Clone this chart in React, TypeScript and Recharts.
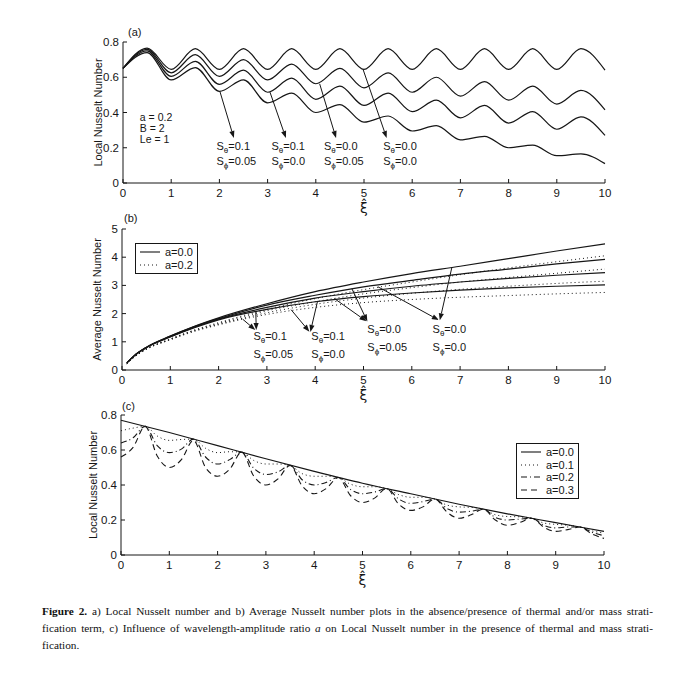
import React from 'react';
import { LineChart, Line, XAxis, YAxis, ReferenceLine, ReferenceDot, Legend } from 'recharts';

// ---------- ticks ----------
const xiTicks = [0, 1, 2, 3, 4, 5, 6, 7, 8, 9, 10];
const nuLocalTicks = [0, 0.2, 0.4, 0.6, 0.8];
const nuAvgTicks = [0, 1, 2, 3, 4, 5];

// ---------- panel (a) ----------
const xiA = [0, 0.5, 1, 1.5, 2, 2.5, 3, 3.5, 4, 4.5, 5, 5.5, 6, 6.5, 7, 7.5, 8, 8.5, 9, 9.5, 10];
const aS00 = [0.65, 0.765, 0.645, 0.762, 0.645, 0.762, 0.645, 0.762, 0.645, 0.762, 0.645, 0.762, 0.645, 0.762, 0.645, 0.762, 0.645, 0.762, 0.645, 0.762, 0.64];
const aS0005 = [0.65, 0.758, 0.625, 0.728, 0.605, 0.7, 0.585, 0.675, 0.563, 0.65, 0.54, 0.625, 0.515, 0.6, 0.493, 0.575, 0.47, 0.55, 0.448, 0.525, 0.415];
const aS0100 = [0.65, 0.75, 0.605, 0.69, 0.56, 0.64, 0.515, 0.595, 0.475, 0.55, 0.44, 0.51, 0.405, 0.47, 0.37, 0.44, 0.34, 0.405, 0.305, 0.375, 0.27];
const aS0105 = [0.65, 0.74, 0.585, 0.655, 0.52, 0.585, 0.455, 0.51, 0.4, 0.445, 0.345, 0.38, 0.295, 0.325, 0.245, 0.265, 0.2, 0.215, 0.155, 0.165, 0.11];

// ---------- panel (b) ----------
const xiB = [0.1, 0.25, 0.5, 1, 1.5, 2, 3, 4, 5, 6, 7, 8, 9, 10];
const bSolid00 = [0.25, 0.5, 0.8, 1.2, 1.55, 1.85, 2.35, 2.78, 3.12, 3.42, 3.68, 3.95, 4.22, 4.47];
const bSolid0005 = [0.25, 0.5, 0.8, 1.2, 1.54, 1.82, 2.3, 2.65, 2.95, 3.18, 3.4, 3.58, 3.76, 3.92];
const bSolid0100 = [0.25, 0.5, 0.79, 1.18, 1.52, 1.8, 2.22, 2.55, 2.78, 2.97, 3.12, 3.25, 3.36, 3.45];
const bSolid0105 = [0.25, 0.5, 0.79, 1.17, 1.5, 1.78, 2.15, 2.42, 2.6, 2.73, 2.83, 2.91, 2.97, 3.02];
const bDot00 = [0.22, 0.46, 0.74, 1.1, 1.42, 1.68, 2.15, 2.53, 2.85, 3.12, 3.38, 3.62, 3.84, 4.05];
const bDot0005 = [0.22, 0.46, 0.74, 1.1, 1.41, 1.65, 2.1, 2.42, 2.7, 2.92, 3.12, 3.28, 3.43, 3.58];
const bDot0100 = [0.22, 0.45, 0.73, 1.08, 1.39, 1.62, 2.03, 2.33, 2.55, 2.72, 2.86, 2.97, 3.07, 3.15];
const bDot0105 = [0.22, 0.45, 0.73, 1.07, 1.37, 1.6, 1.97, 2.22, 2.39, 2.5, 2.58, 2.64, 2.7, 2.75];
const bLegendLabels = ['a=0.0', 'a=0.2'];

// ---------- panel (c) ----------
const xiCSolid = [0, 1, 2, 3, 4, 5, 6, 7, 8, 9, 10];
const cA00 = [0.77, 0.7, 0.625, 0.55, 0.478, 0.41, 0.35, 0.29, 0.235, 0.185, 0.135];
const xiC = [0, 0.25, 0.5, 0.75, 1, 1.25, 1.5, 1.75, 2, 2.25, 2.5, 2.75, 3, 3.25, 3.5, 3.75, 4, 4.25, 4.5, 4.75, 5, 5.25, 5.5, 5.75, 6, 6.25, 6.5, 6.75, 7, 7.25, 7.5, 7.75, 8, 8.25, 8.5, 8.75, 9, 9.25, 9.5, 9.75, 10];
const cA01 = [0.71, 0.725, 0.735, 0.68, 0.655, 0.66, 0.662, 0.61, 0.585, 0.59, 0.588, 0.54, 0.52, 0.52, 0.512, 0.465, 0.45, 0.45, 0.443, 0.405, 0.39, 0.39, 0.38, 0.345, 0.33, 0.33, 0.32, 0.285, 0.275, 0.272, 0.262, 0.23, 0.22, 0.218, 0.21, 0.183, 0.175, 0.17, 0.16, 0.138, 0.125];
const cA02 = [0.64, 0.67, 0.735, 0.625, 0.585, 0.605, 0.662, 0.56, 0.52, 0.545, 0.588, 0.495, 0.46, 0.475, 0.512, 0.43, 0.4, 0.415, 0.443, 0.375, 0.35, 0.36, 0.38, 0.32, 0.295, 0.305, 0.32, 0.265, 0.245, 0.25, 0.262, 0.215, 0.2, 0.205, 0.21, 0.17, 0.155, 0.16, 0.16, 0.13, 0.11];
const cA03 = [0.56, 0.615, 0.735, 0.566, 0.5, 0.545, 0.655, 0.5, 0.45, 0.49, 0.588, 0.45, 0.4, 0.435, 0.512, 0.395, 0.35, 0.38, 0.443, 0.34, 0.3, 0.325, 0.38, 0.29, 0.255, 0.275, 0.32, 0.245, 0.21, 0.23, 0.262, 0.2, 0.17, 0.185, 0.21, 0.16, 0.135, 0.145, 0.16, 0.12, 0.095];
const cLegendLabels = ['a=0.0', 'a=0.1', 'a=0.2', 'a=0.3'];

// ---------- helpers ----------
const INK = '#161616';
const SANS = "'Liberation Sans', Arial, Helvetica, sans-serif";

const rowsA = xiA.map((x, i) => ({ x, s00: aS00[i], s0005: aS0005[i], s0100: aS0100[i], s0105: aS0105[i] }));
const rowsB = xiB.map((x, i) => ({
  x,
  s00: bSolid00[i], s0005: bSolid0005[i], s0100: bSolid0100[i], s0105: bSolid0105[i],
  d00: bDot00[i], d0005: bDot0005[i], d0100: bDot0100[i], d0105: bDot0105[i],
}));
const rowsCSolid = xiCSolid.map((x, i) => ({ x, y: cA00[i] }));
const rowsC = xiC.map((x, i) => ({ x, a01: cA01[i], a02: cA02[i], a03: cA03[i] }));

const XTick = (p: any) => {
  const { x, y, payload } = p;
  return (
    <g>
      <line x1={x} y1={y} x2={x} y2={y - 4} stroke={INK} strokeWidth={1} />
      <text x={x} y={y + 14} textAnchor="middle" fontSize={11.5} fontFamily={SANS} fill={INK}>
        {payload.value}
      </text>
    </g>
  );
};

const YTick = (p: any) => {
  const { x, y, payload } = p;
  return (
    <g>
      <line x1={x} y1={y} x2={x + 4} y2={y} stroke={INK} strokeWidth={1} />
      <text x={x - 4} y={y + 4} textAnchor="end" fontSize={11.5} fontFamily={SANS} fill={INK}>
        {payload.value}
      </text>
    </g>
  );
};

const XiLabel = (p: any) => {
  const vb = p.viewBox || {};
  return (
    <text x={vb.x + vb.width / 2} y={vb.y + 30} textAnchor="middle" fontSize={14} fontFamily="'DejaVu Sans', sans-serif" fill={INK}>
      {'\u03BE\u0302'}
    </text>
  );
};

const Arrow = (p: any) => {
  const { x1, y1, x2, y2 } = p;
  const ang = Math.atan2(y2 - y1, x2 - x1);
  const L = 7;
  const W = 2.6;
  const bx = x2 - L * Math.cos(ang);
  const by = y2 - L * Math.sin(ang);
  const px = -Math.sin(ang) * W;
  const py = Math.cos(ang) * W;
  return (
    <g>
      <line x1={x1} y1={y1} x2={bx} y2={by} stroke={INK} strokeWidth={1} />
      <polygon points={`${x2},${y2} ${bx + px},${by + py} ${bx - px},${by - py}`} fill={INK} />
    </g>
  );
};

const sLabel = (sub: string, val: string) => (p: any) => (
  <text x={p.cx} y={p.cy} fontSize={11} fontFamily={SANS} fill={INK}>
    <tspan>S</tspan>
    <tspan fontSize={8} dy={3}>{sub}</tspan>
    <tspan dy={-3}>{val}</tspan>
  </text>
);

const plainLabel = (t: string) => (p: any) => (
  <text x={p.cx} y={p.cy} fontSize={10.5} fontFamily={SANS} fill={INK}>{t}</text>
);

const LegendBox = ({ labels, dashes }: { labels: string[]; dashes: string[] }) => (
  <div style={{ border: `1px solid ${INK}`, background: '#fff', padding: '2px 4px', fontFamily: SANS, fontSize: 11, color: INK }}>
    {labels.map((l, i) => (
      <div key={l} style={{ display: 'flex', alignItems: 'center', height: 12.5 }}>
        <svg width={20} height={8} style={{ marginRight: 5 }}>
          <line x1={0} y1={4} x2={20} y2={4} stroke={INK} strokeWidth={1.1} strokeDasharray={dashes[i]} />
        </svg>
        <span>{l}</span>
      </div>
    ))}
  </div>
);

const lineStyle = { stroke: INK, strokeWidth: 1.2, dot: false as const, isAnimationActive: false };

const yLabelStyle = (value: string) => ({
  value,
  angle: -90,
  position: 'center' as const,
  style: { fontSize: 11, fontFamily: SANS, fill: INK, textAnchor: 'middle' as const },
});

const panelTitle = (t: string, left: number, top: number) => (
  <div style={{ position: 'absolute', left, top, fontFamily: SANS, fontSize: 11, color: INK, lineHeight: '12px' }}>{t}</div>
);

const xAxisCommon = {
  dataKey: 'x',
  type: 'number' as const,
  domain: [0, 10],
  ticks: xiTicks,
  interval: 0 as const,
  tick: <XTick />,
  tickLine: false,
  tickSize: 0,
  tickMargin: 0,
  height: 40,
  axisLine: { stroke: INK },
  label: <XiLabel />,
};

const yAxisCommon = {
  type: 'number' as const,
  interval: 0 as const,
  tick: <YTick />,
  tickLine: false,
  tickSize: 0,
  tickMargin: 0,
  axisLine: { stroke: INK },
};

export default function App() {
  return (
    <div style={{ position: 'absolute', left: 0, top: 0, width: 696, height: 680, background: '#fff', overflow: 'hidden' }}>
      {/* (a) */}
      <div style={{ position: 'absolute', left: 0, top: 0 }}>
        <LineChart width={696} height={225} data={rowsA} margin={{ top: 42, right: 91, bottom: 2, left: 73 }}>
          <XAxis {...xAxisCommon} />
          <YAxis {...yAxisCommon} domain={[0, 0.8]} ticks={nuLocalTicks} width={50} label={yLabelStyle('Local Nusselt Number')} />
          <Line type="monotone" dataKey="s00" {...lineStyle} />
          <Line type="monotone" dataKey="s0005" {...lineStyle} />
          <Line type="monotone" dataKey="s0100" {...lineStyle} />
          <Line type="monotone" dataKey="s0105" {...lineStyle} />
          <ReferenceLine segment={[{ x: 2.01, y: 0.52 }, { x: 2.3, y: 0.255 }]} shape={Arrow} ifOverflow="visible" />
          <ReferenceLine segment={[{ x: 3.05, y: 0.515 }, { x: 3.38, y: 0.255 }]} shape={Arrow} ifOverflow="visible" />
          <ReferenceLine segment={[{ x: 4.08, y: 0.563 }, { x: 4.42, y: 0.255 }]} shape={Arrow} ifOverflow="visible" />
          <ReferenceLine segment={[{ x: 4.98, y: 0.645 }, { x: 5.47, y: 0.255 }]} shape={Arrow} ifOverflow="visible" />
          <ReferenceDot x={0.35} y={0.351} r={1} shape={plainLabel('a = 0.2')} ifOverflow="visible" />
          <ReferenceDot x={0.35} y={0.289} r={1} shape={plainLabel('B = 2')} ifOverflow="visible" />
          <ReferenceDot x={0.35} y={0.226} r={1} shape={plainLabel('Le = 1')} ifOverflow="visible" />
          <ReferenceDot x={1.94} y={0.19} r={1} shape={sLabel('\u03B8', '=0.1')} ifOverflow="visible" />
          <ReferenceDot x={1.94} y={0.1} r={1} shape={sLabel('\u03D5', '=0.05')} ifOverflow="visible" />
          <ReferenceDot x={3.08} y={0.19} r={1} shape={sLabel('\u03B8', '=0.1')} ifOverflow="visible" />
          <ReferenceDot x={3.08} y={0.1} r={1} shape={sLabel('\u03D5', '=0.0')} ifOverflow="visible" />
          <ReferenceDot x={4.17} y={0.19} r={1} shape={sLabel('\u03B8', '=0.0')} ifOverflow="visible" />
          <ReferenceDot x={4.17} y={0.1} r={1} shape={sLabel('\u03D5', '=0.05')} ifOverflow="visible" />
          <ReferenceDot x={5.4} y={0.19} r={1} shape={sLabel('\u03B8', '=0.0')} ifOverflow="visible" />
          <ReferenceDot x={5.4} y={0.1} r={1} shape={sLabel('\u03D5', '=0.0')} ifOverflow="visible" />
        </LineChart>
      </div>
      {panelTitle('(a)', 128, 26)}

      {/* (b) */}
      <div style={{ position: 'absolute', left: 0, top: 210 }}>
        <LineChart width={696} height={200} data={rowsB} margin={{ top: 19, right: 91, bottom: 0, left: 72 }}>
          <XAxis {...xAxisCommon} />
          <YAxis {...yAxisCommon} domain={[0, 5]} ticks={nuAvgTicks} width={50} label={yLabelStyle('Average Nusselt Number')} />
          <Line type="monotone" dataKey="s00" {...lineStyle} />
          <Line type="monotone" dataKey="s0005" {...lineStyle} />
          <Line type="monotone" dataKey="s0100" {...lineStyle} />
          <Line type="monotone" dataKey="s0105" {...lineStyle} />
          <Line type="monotone" dataKey="d00" {...lineStyle} strokeWidth={1} strokeDasharray="1 3" />
          <Line type="monotone" dataKey="d0005" {...lineStyle} strokeWidth={1} strokeDasharray="1 3" />
          <Line type="monotone" dataKey="d0100" {...lineStyle} strokeWidth={1} strokeDasharray="1 3" />
          <Line type="monotone" dataKey="d0105" {...lineStyle} strokeWidth={1} strokeDasharray="1 3" />
          <ReferenceLine segment={[{ x: 2.77, y: 2.05 }, { x: 2.78, y: 1.42 }]} shape={Arrow} ifOverflow="visible" />
          <ReferenceLine segment={[{ x: 2.5, y: 1.8 }, { x: 2.76, y: 1.42 }]} shape={Arrow} ifOverflow="visible" />
          <ReferenceLine segment={[{ x: 4.05, y: 2.45 }, { x: 3.9, y: 1.35 }]} shape={Arrow} ifOverflow="visible" />
          <ReferenceLine segment={[{ x: 3.5, y: 2.14 }, { x: 3.88, y: 1.36 }]} shape={Arrow} ifOverflow="visible" />
          <ReferenceLine segment={[{ x: 4.76, y: 2.88 }, { x: 5.08, y: 1.72 }]} shape={Arrow} ifOverflow="visible" />
          <ReferenceLine segment={[{ x: 4.4, y: 2.53 }, { x: 5.06, y: 1.73 }]} shape={Arrow} ifOverflow="visible" />
          <ReferenceLine segment={[{ x: 6.83, y: 3.64 }, { x: 6.58, y: 1.76 }]} shape={Arrow} ifOverflow="visible" />
          <ReferenceLine segment={[{ x: 5.3, y: 2.95 }, { x: 6.56, y: 1.77 }]} shape={Arrow} ifOverflow="visible" />
          <ReferenceDot x={2.72} y={1.05} r={1} shape={sLabel('\u03B8', '=0.1')} ifOverflow="visible" />
          <ReferenceDot x={2.72} y={0.42} r={1} shape={sLabel('\u03D5', '=0.05')} ifOverflow="visible" />
          <ReferenceDot x={3.92} y={1.05} r={1} shape={sLabel('\u03B8', '=0.1')} ifOverflow="visible" />
          <ReferenceDot x={3.92} y={0.42} r={1} shape={sLabel('\u03D5', '=0.0')} ifOverflow="visible" />
          <ReferenceDot x={5.08} y={1.3} r={1} shape={sLabel('\u03B8', '=0.0')} ifOverflow="visible" />
          <ReferenceDot x={5.08} y={0.68} r={1} shape={sLabel('\u03D5', '=0.05')} ifOverflow="visible" />
          <ReferenceDot x={6.43} y={1.3} r={1} shape={sLabel('\u03B8', '=0.0')} ifOverflow="visible" />
          <ReferenceDot x={6.43} y={0.68} r={1} shape={sLabel('\u03D5', '=0.0')} ifOverflow="visible" />
          <Legend
            layout="vertical"
            align="center"
            verticalAlign="middle"
            wrapperStyle={{ position: 'absolute', left: 135, top: 33, width: 'auto', height: 'auto' }}
            content={() => <LegendBox labels={bLegendLabels} dashes={['', '1 3']} />}
          />
        </LineChart>
      </div>
      {panelTitle('(b)', 124, 212)}

      {/* (c) */}
      <div style={{ position: 'absolute', left: 0, top: 400 }}>
        <LineChart width={696} height={200} margin={{ top: 15, right: 92, bottom: 5, left: 65 }}>
          <XAxis {...xAxisCommon} allowDuplicatedCategory={false} />
          <YAxis {...yAxisCommon} domain={[0, 0.8]} ticks={nuLocalTicks} width={56} label={yLabelStyle('Local Nusselt Number')} />
          <Line data={rowsCSolid} type="monotone" dataKey="y" {...lineStyle} />
          <Line data={rowsC} type="monotone" dataKey="a01" {...lineStyle} strokeWidth={1} strokeDasharray="1 3" />
          <Line data={rowsC} type="monotone" dataKey="a02" {...lineStyle} strokeWidth={1.1} strokeDasharray="6 3 1 3" />
          <Line data={rowsC} type="monotone" dataKey="a03" {...lineStyle} strokeWidth={1.1} strokeDasharray="6 4" />
          <Legend
            layout="vertical"
            align="center"
            verticalAlign="middle"
            wrapperStyle={{ position: 'absolute', left: 516, top: 43, width: 'auto', height: 'auto' }}
            content={() => <LegendBox labels={cLegendLabels} dashes={['', '1 3', '6 3 1 3', '6 4']} />}
          />
        </LineChart>
      </div>
      {panelTitle('(c)', 122, 400)}

      {/* caption */}
      <div style={{ position: 'absolute', left: 42, top: 603, width: 611, fontFamily: "'Liberation Serif', 'Times New Roman', serif", fontSize: 11.3, lineHeight: '17px', color: '#111', whiteSpace: 'nowrap' }}>
        <div style={{ textAlign: 'justify', textAlignLast: 'justify', whiteSpace: 'normal' }}>
          <b>Figure 2.</b> a) Local Nusselt number and b) Average Nusselt number plots in the absence/presence of thermal and/or mass strati-
        </div>
        <div style={{ textAlign: 'justify', textAlignLast: 'justify', whiteSpace: 'normal' }}>
          fication term, c) Influence of wavelength-amplitude ratio <i>a</i> on Local Nusselt number in the presence of thermal and mass strati-
        </div>
        <div>fication.</div>
      </div>
    </div>
  );
}
